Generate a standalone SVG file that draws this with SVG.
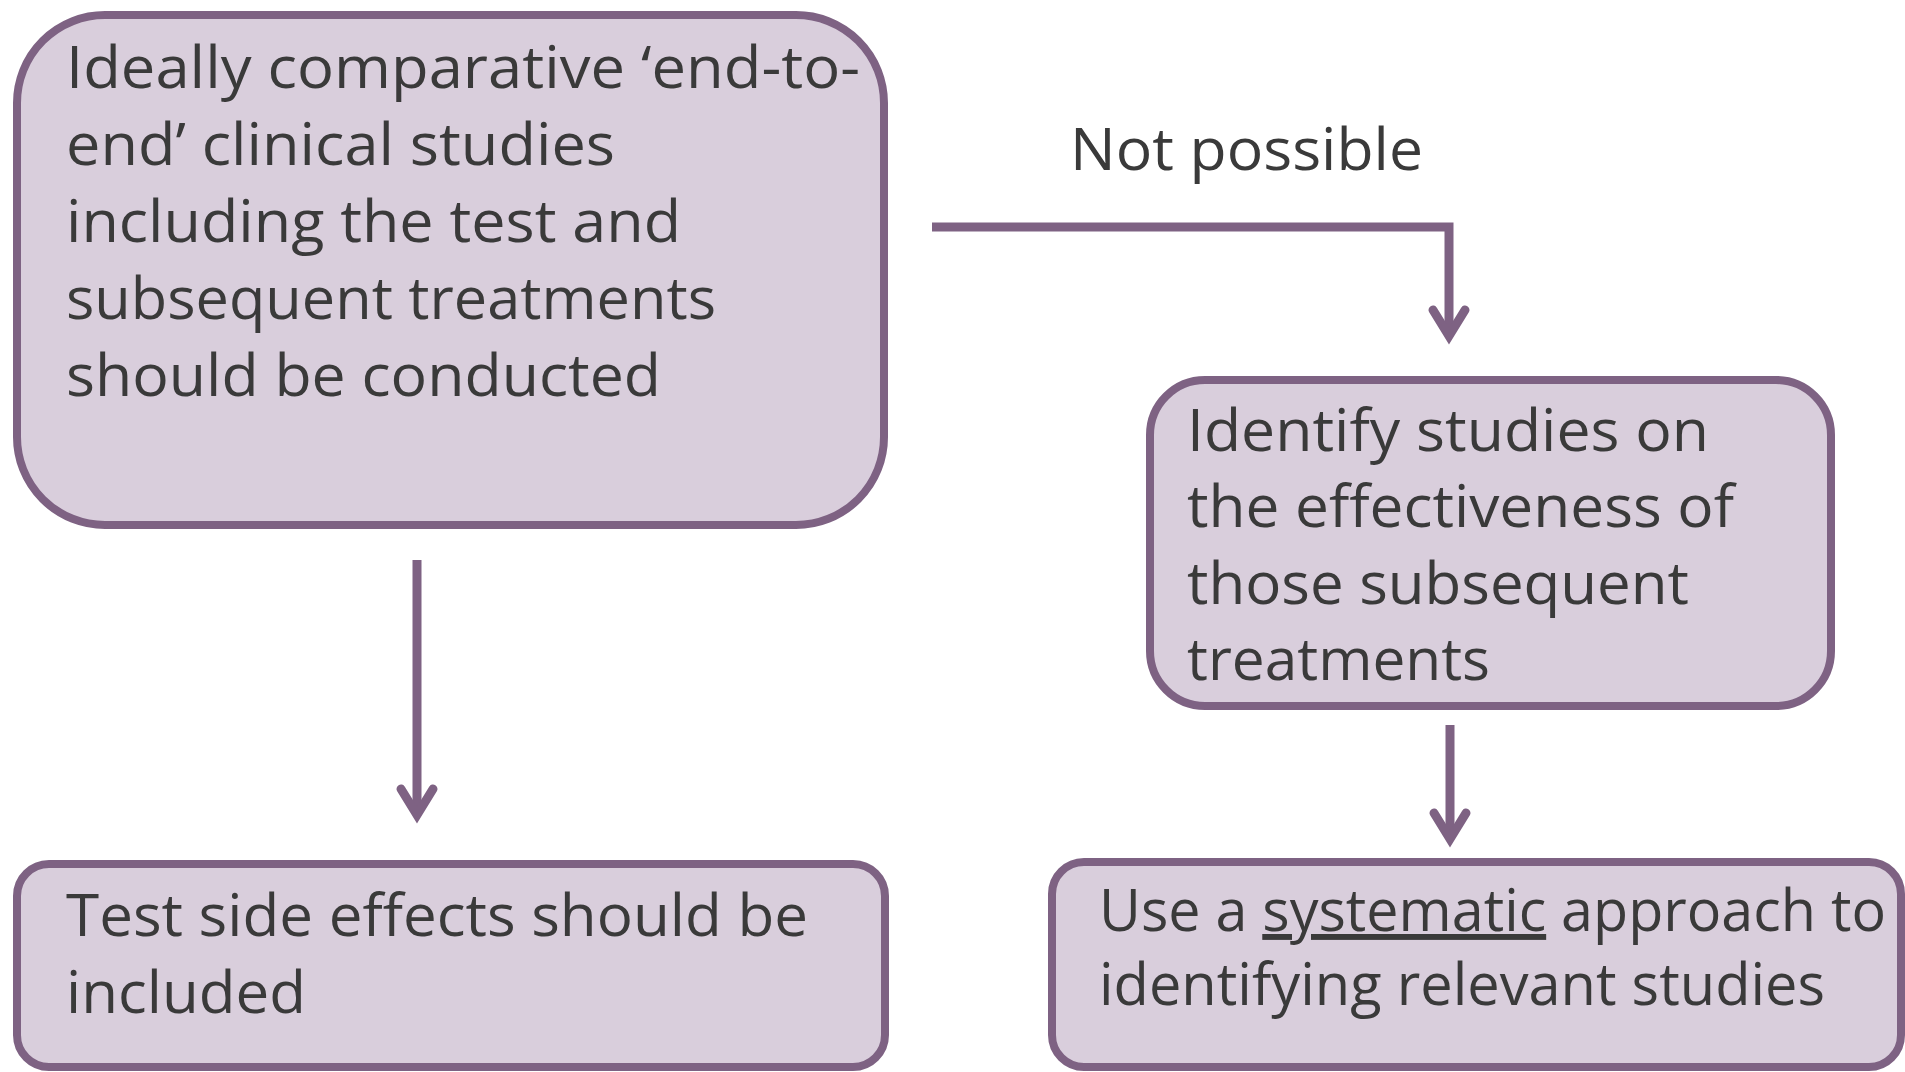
<svg xmlns="http://www.w3.org/2000/svg" width="1905" height="1072" viewBox="0 0 1905 1072">
  <style>
    .box { fill: #D9CEDC; stroke: #7E6283; stroke-width: 8; }
    .lbl { font-family: "Open Sans", "Noto Sans", "Liberation Sans", sans-serif; font-size: 59px; fill: #3A3A3A; }
    .wire { fill: none; stroke: #7E6283; stroke-width: 9; stroke-linejoin: miter; }
  </style>
  <defs>
    <marker id="arrow" markerUnits="userSpaceOnUse" viewBox="-40 -25 50 50" refX="0" refY="0" markerWidth="50" markerHeight="50" orient="auto" overflow="visible">
      <path d="M-26,-16 L0,0 L-26,16" fill="none" stroke="#7E6283" stroke-width="9" stroke-linecap="round" stroke-linejoin="miter"/>
    </marker>
  </defs>
  <rect width="1905" height="1072" fill="#FFFFFF"/>

  <g id="connectors">
    <line class="wire" x1="417" y1="560" x2="417" y2="815" marker-end="url(#arrow)"/>
    <polyline class="wire" points="932,227 1449,227 1449,336" marker-end="url(#arrow)"/>
    <line class="wire" x1="1450" y1="725" x2="1450" y2="839" marker-end="url(#arrow)"/>
    <text class="lbl" x="1070" y="170" textLength="353" lengthAdjust="spacingAndGlyphs">Not possible</text>
  </g>

  <g id="node-end-to-end">
    <rect class="box" x="17" y="15" width="867" height="510" rx="88" ry="88"/>
    <text class="lbl" x="66" y="88" textLength="794" lengthAdjust="spacingAndGlyphs">Ideally comparative ‘end-to-</text>
    <text class="lbl" x="66" y="165" textLength="549" lengthAdjust="spacingAndGlyphs">end’ clinical studies</text>
    <text class="lbl" x="66" y="242" textLength="615" lengthAdjust="spacingAndGlyphs">including the test and</text>
    <text class="lbl" x="66" y="319" textLength="650" lengthAdjust="spacingAndGlyphs">subsequent treatments</text>
    <text class="lbl" x="66" y="396" textLength="595" lengthAdjust="spacingAndGlyphs">should be conducted</text>
  </g>

  <g id="node-identify">
    <rect class="box" x="1150" y="380" width="681" height="326" rx="55" ry="55"/>
    <text class="lbl" x="1187" y="451" textLength="522" lengthAdjust="spacingAndGlyphs">Identify studies on</text>
    <text class="lbl" x="1187" y="527" textLength="547" lengthAdjust="spacingAndGlyphs">the effectiveness of</text>
    <text class="lbl" x="1187" y="604" textLength="502" lengthAdjust="spacingAndGlyphs">those subsequent</text>
    <text class="lbl" x="1187" y="680" textLength="303" lengthAdjust="spacingAndGlyphs">treatments</text>
  </g>

  <g id="node-side-effects">
    <rect class="box" x="17" y="864" width="868" height="203" rx="32" ry="32"/>
    <text class="lbl" x="66" y="936" textLength="742" lengthAdjust="spacingAndGlyphs">Test side effects should be</text>
    <text class="lbl" x="66" y="1013" textLength="240" lengthAdjust="spacingAndGlyphs">included</text>
  </g>

  <g id="node-systematic">
    <rect class="box" x="1052" y="862" width="849" height="205" rx="32" ry="32"/>
    <text class="lbl" x="1099" y="931" textLength="787" lengthAdjust="spacingAndGlyphs">Use a <tspan text-decoration="underline">systematic</tspan> approach to</text>
    <text class="lbl" x="1099" y="1005" textLength="726" lengthAdjust="spacingAndGlyphs">identifying relevant studies</text>
  </g>
</svg>
